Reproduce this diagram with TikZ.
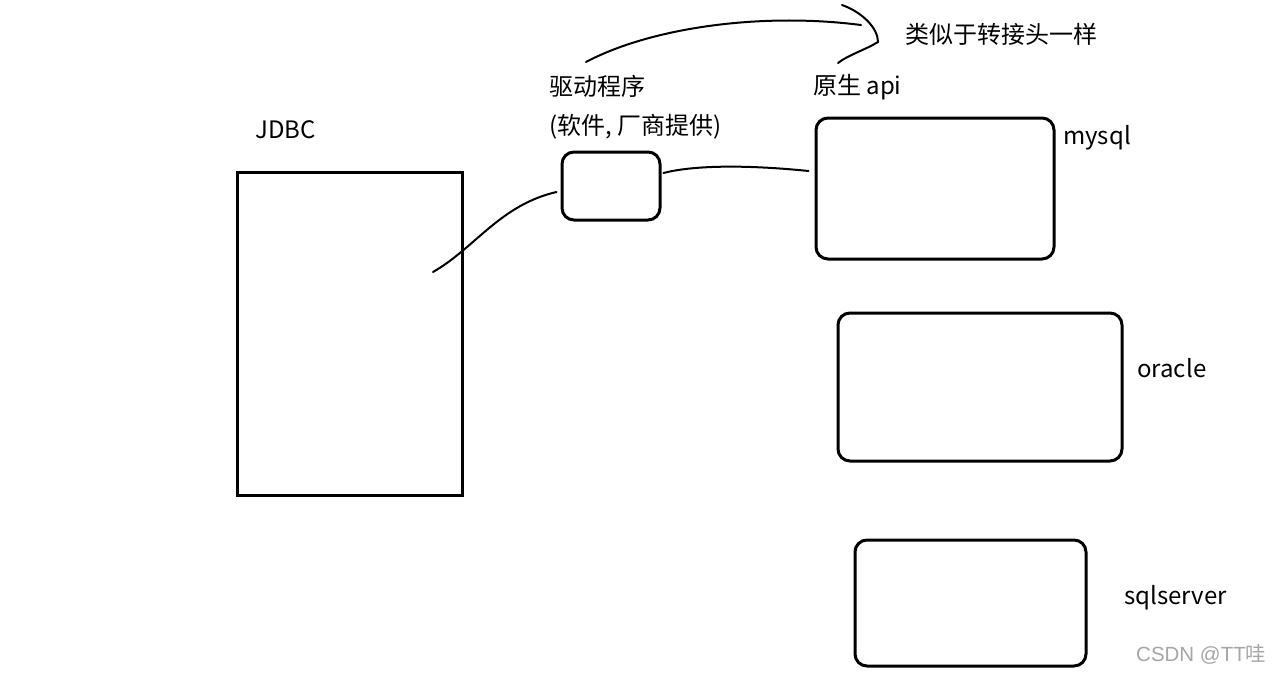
\documentclass[tikz,border=0pt]{standalone}
\usepackage{fontspec}
\setmainfont{Noto Sans CJK SC}
\newfontfamily\wmfont{Liberation Sans}
\newfontfamily\wmcjk{Noto Sans CJK SC}
\usetikzlibrary{calc}
\begin{document}
\begin{tikzpicture}[x=1pt,y=-1pt,
  box/.style={draw=black,line width=3pt,inner sep=0pt},
  dbbox/.style={box,rounded corners=12pt},
  wire/.style={draw=black,line width=2pt,line cap=round},
  lbl/.style={anchor=west,inner sep=0pt,font=\fontsize{24}{28}\selectfont}]
\useasboundingbox[fill=white] (0,0) rectangle (1279,675);
% boxes
\node[box,minimum width=225pt,minimum height=323pt] (jdbc) at (349.5,333.5) {};
\node[dbbox,minimum width=98pt,minimum height=68pt] (driver) at (611,186) {};
\node[dbbox,minimum width=238pt,minimum height=141pt] (mysql) at (935,188.5) {};
\node[dbbox,minimum width=284pt,minimum height=148pt] (oracle) at (980,387) {};
\node[dbbox,minimum width=231pt,minimum height=126pt] (sqlserver) at (970.5,603) {};
% labels
\node[lbl] (tjdbc) at (255,130) {JDBC};
\node[lbl] (tdrv) at (549,86) {驱动程序};
\node[lbl] (tdrv2) at (549,127) {(软件, 厂商提供)};
\node[lbl] (tapi) at (813,87) {原生 api};
\node[lbl] (tnote) at (905,34) {类似于转接头一样};
\node[lbl] (tmysql) at (1063,138) {mysql};
\node[lbl] (toracle) at (1137,368) {oracle};
\node[lbl] (tsql) at (1124,598) {sqlserver};
\node[anchor=west,inner sep=0pt,text=black!35,font=\fontsize{20.5}{24}\selectfont] (wm) at (1136,654) {\wmfont CSDN @TT\wmcjk 哇};
% connectors
\coordinate (jin) at (433,272);
\draw[wire] (jin) .. controls (475,248) and (500,205) .. ($(driver.west)+(-4pt,-6pt)$);
\draw[wire] ($(driver.east)+(2pt,13pt)$) .. controls (690,166) and (740,164) .. ($(mysql.west)+(-6pt,17.5pt)$);
% top arrow
\coordinate (astart) at (586,62);
\coordinate (aend) at (861,25);
\draw[wire] (astart) .. controls (650,28) and (760,12) .. (aend);
\draw[wire] (842,5) .. controls (862,12) and (878,28) .. (878,42) .. controls (865,50) and (848,55) .. (838,63);
\end{tikzpicture}
\end{document}
